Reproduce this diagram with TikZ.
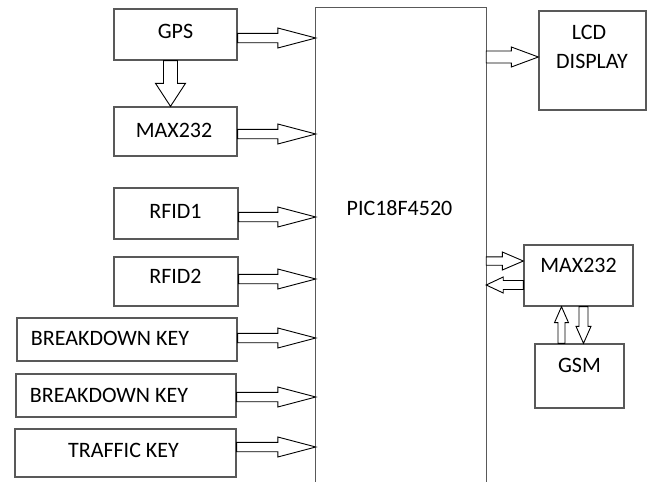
\documentclass[tikz,border=0pt]{standalone}
\usepackage{fontspec}
\setmainfont{Carlito}
\usetikzlibrary{calc}
\tikzset{
  box/.style={draw=black!65, line width=1.3pt, rectangle, inner sep=0pt},
  txt/.style={inner sep=0pt, text=black, font=\fontsize{22}{26}\selectfont, align=center},
  barrow/.style={draw=black, line width=0.9pt, fill=white, line join=miter},
}
\newcommand\blockarrow[5]{%
  \coordinate (baA) at (#1);
  \coordinate (baB) at (#2);
  \coordinate (baH) at ($(baB)!#5!(baA)$);
  \draw[barrow] ($(baA)!#3!90:(baB)$) -- ($(baH)!#3!90:(baB)$) -- ($(baH)!#4!90:(baB)$)
    -- (baB) -- ($(baH)!#4!-90:(baB)$) -- ($(baH)!#3!-90:(baB)$) -- ($(baA)!#3!-90:(baB)$) -- cycle;
}
\begin{document}
\begin{tikzpicture}[x=1pt,y=-1pt]
\useasboundingbox (0,0) rectangle (651,482);
% left boxes
\node[box, minimum width=123pt, minimum height=51pt] (gps) at (175.5,34.5) {};
\node[txt] (gpst) at (175.5,31) {GPS};
\node[box, minimum width=123pt, minimum height=49pt] (max1) at (175.5,131.5) {};
\node[txt] (max1t) at (174,130) {MAX232};
\node[box, minimum width=124pt, minimum height=51pt] (rfid1) at (176,213.5) {};
\node[txt] (rfid1t) at (175.5,211) {RFID1};
\node[box, minimum width=124pt, minimum height=49pt] (rfid2) at (176,281.5) {};
\node[txt] (rfid2t) at (175.5,276.5) {RFID2};
\node[box, minimum width=220pt, minimum height=43pt] (bd1) at (127,339.5) {};
\node[txt] (bd1t) at (110,338.5) {BREAKDOWN KEY};
\node[box, minimum width=220pt, minimum height=43pt] (bd2) at (126,395.5) {};
\node[txt] (bd2t) at (109,395.5) {BREAKDOWN KEY};
\node[box, minimum width=221pt, minimum height=48pt] (traffic) at (125.5,453) {};
\node[txt] (traffict) at (123.5,450) {TRAFFIC KEY};
% PIC
\node[minimum width=170pt, minimum height=476pt, inner sep=0pt] (pic) at (401,246) {};
\draw[draw=black!65, line width=1.3pt] (pic.south west) -- (pic.north west) -- (pic.north east) -- (pic.south east);
\node[txt] (pict) at (399.5,208) {PIC18F4520};
% right boxes
\node[box, minimum width=107pt, minimum height=99pt] (lcd) at (592.5,60.5) {};
\node[txt] (lcdt1) at (589,32.5) {LCD};
\node[txt] (lcdt2) at (592,61.5) {DISPLAY};
\node[box, minimum width=109pt, minimum height=61pt] (max2) at (578.5,275.5) {};
\node[txt] (max2t) at (578.5,265) {MAX232};
\node[box, minimum width=89pt, minimum height=64pt] (gsm) at (579.5,376) {};
\node[txt] (gsmt) at (579.5,365) {GSM};
% arrows into PIC
\blockarrow{[yshift=-3.5pt]gps.east}{pic.west |- baA}{4.7pt}{10pt}{38pt}
\blockarrow{[yshift=-2.5pt]max1.east}{pic.west |- baA}{4.7pt}{10pt}{38pt}
\blockarrow{[yshift=-3.5pt]rfid1.east}{pic.west |- baA}{4.7pt}{10pt}{38pt}
\blockarrow{[yshift=2.5pt]rfid2.east}{pic.west |- baA}{4.7pt}{10pt}{38pt}
\blockarrow{[yshift=1.5pt]bd1.east}{pic.west |- baA}{4.7pt}{10pt}{38pt}
\blockarrow{[yshift=-1.5pt]bd2.east}{pic.west |- baA}{4.7pt}{10pt}{38pt}
\blockarrow{[yshift=6pt]traffic.east}{pic.west |- baA}{4.7pt}{10pt}{38pt}
% GPS -> MAX232
\blockarrow{[xshift=-5pt]gps.south}{max1.north -| baA}{7pt}{15pt}{23pt}
% PIC -> LCD
\coordinate (lcdin) at ([yshift=3.5pt]lcd.west);
\blockarrow{pic.east |- lcdin}{lcdin}{6pt}{10pt}{27pt}
% PIC <-> MAX232
\coordinate (m2in) at ([yshift=14.5pt]max2.west);
\blockarrow{pic.east |- m2in}{m2in}{4.2pt}{9pt}{21pt}
\coordinate (m2out) at ([yshift=-9.5pt]max2.west);
\blockarrow{m2out}{pic.east |- m2out}{4.5pt}{8pt}{17pt}
% MAX232 <-> GSM
\coordinate (gup) at ([xshift=-18pt]gsm.north);
\blockarrow{gup}{max2.south -| gup}{3.5pt}{7pt}{16pt}
\coordinate (gdn) at ([xshift=4pt]gsm.north);
\blockarrow{max2.south -| gdn}{gdn}{4.5pt}{7.5pt}{17pt}
\end{tikzpicture}
\end{document}
